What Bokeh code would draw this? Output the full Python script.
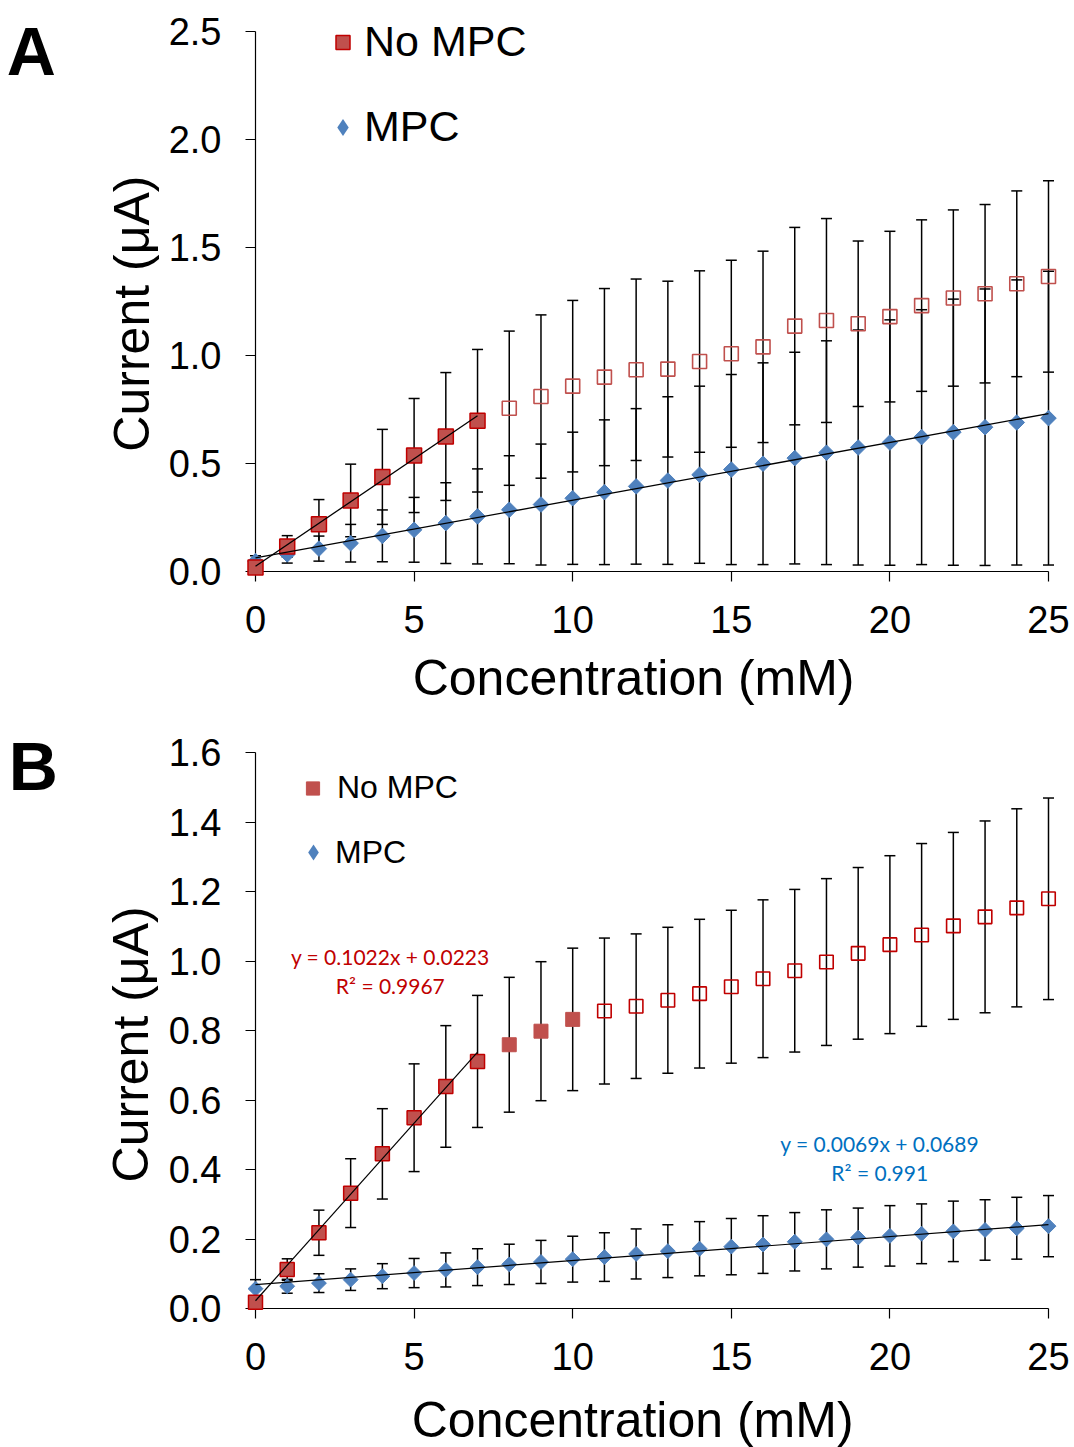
import numpy as np
from bokeh.plotting import figure
from bokeh.layouts import column
from bokeh.models import (ColumnDataSource, FixedTicker, NumeralTickFormatter,
                          Legend, LegendItem, Label)
from bokeh.core.properties import value
from bokeh.embed import file_html
from bokeh.resources import INLINE

# ---------------- data ----------------
conc = list(range(26))
x_ticks = [0, 5, 10, 15, 20, 25]
a_y_ticks = [0.0, 0.5, 1.0, 1.5, 2.0, 2.5]
b_y_ticks = [0.0, 0.2, 0.4, 0.6, 0.8, 1.0, 1.2, 1.4, 1.6]

# Panel A
a_nompc = [0.019, 0.116, 0.219, 0.329, 0.438, 0.537, 0.625, 0.698, 0.756, 0.810,
           0.858, 0.900, 0.934, 0.937, 0.972, 1.008, 1.040, 1.136, 1.162, 1.147,
           1.180, 1.231, 1.266, 1.286, 1.332, 1.366]
a_nompc_err = [0.015, 0.050, 0.114, 0.168, 0.220, 0.264, 0.296, 0.330, 0.357, 0.378,
               0.397, 0.410, 0.420, 0.407, 0.420, 0.433, 0.443, 0.457, 0.472, 0.383,
               0.395, 0.397, 0.408, 0.413, 0.430, 0.443]
a_mpc = [0.048, 0.079, 0.106, 0.131, 0.165, 0.193, 0.224, 0.255, 0.286, 0.310,
         0.339, 0.367, 0.394, 0.421, 0.448, 0.472, 0.499, 0.525, 0.550, 0.574,
         0.597, 0.622, 0.645, 0.668, 0.690, 0.710]
a_mpc_err = [0.025, 0.040, 0.058, 0.087, 0.120, 0.150, 0.187, 0.220, 0.250, 0.280,
             0.306, 0.335, 0.360, 0.388, 0.410, 0.440, 0.467, 0.490, 0.518, 0.544,
             0.568, 0.590, 0.616, 0.640, 0.660, 0.680]

# Panel B
b_nompc = [0.018, 0.112, 0.218, 0.332, 0.445, 0.549, 0.639, 0.711, 0.759, 0.798,
           0.832, 0.856, 0.870, 0.887, 0.906, 0.926, 0.949, 0.972, 0.997, 1.022,
           1.047, 1.075, 1.101, 1.127, 1.153, 1.179]
b_nompc_err = [0.010, 0.031, 0.065, 0.099, 0.130, 0.155, 0.175, 0.190, 0.194, 0.200,
               0.205, 0.210, 0.208, 0.210, 0.214, 0.220, 0.227, 0.234, 0.240, 0.247,
               0.256, 0.263, 0.269, 0.276, 0.285, 0.290]
b_mpc = [0.057, 0.064, 0.073, 0.083, 0.093, 0.102, 0.111, 0.119, 0.127, 0.134,
         0.142, 0.148, 0.157, 0.165, 0.172, 0.178, 0.184, 0.192, 0.199, 0.204,
         0.209, 0.215, 0.222, 0.226, 0.231, 0.237]
b_mpc_err = [0.026, 0.020, 0.027, 0.031, 0.036, 0.042, 0.049, 0.053, 0.058, 0.062,
             0.066, 0.070, 0.072, 0.076, 0.078, 0.081, 0.083, 0.084, 0.085, 0.085,
             0.087, 0.086, 0.087, 0.087, 0.089, 0.088]

# Trend-line equations printed on panel B (slope, intercept, R2)
b_nompc_fit = (0.1022, 0.0223, 0.9967)
b_mpc_fit = (0.0069, 0.0689, 0.991)

x_title = "Concentration (mM)"
y_title = "Current (μA)"

# ---------------- styling ----------------
FONT = "Liberation Sans"
RED_FILL = "#C0504D"
RED_EDGE = "#C00000"
BLUE = "#4F81BD"
LEVEL = "overlay"


def base_figure(height, y_end, y_top_tick, y_ticks, left, top, bottom, right):
    p = figure(width=1074, height=height, x_range=(0, 25), y_range=(0, y_end),
               output_backend="svg", toolbar_location=None,
               min_border_left=left, min_border_top=top,
               min_border_bottom=bottom, min_border_right=right)
    p.outline_line_color = None
    p.xgrid.grid_line_color = None
    p.ygrid.grid_line_color = None
    p.background_fill_color = "white"
    p.border_fill_color = "white"
    p.xaxis.ticker = FixedTicker(ticks=x_ticks)
    p.yaxis.ticker = FixedTicker(ticks=y_ticks)
    p.yaxis.bounds = (0, y_top_tick)
    p.xaxis.formatter = NumeralTickFormatter(format="0")
    p.yaxis.formatter = NumeralTickFormatter(format="0.0")
    for ax in (p.xaxis[0], p.yaxis[0]):
        ax.axis_line_color = "black"
        ax.axis_line_width = 1.2
        ax.major_tick_line_color = "black"
        ax.major_tick_line_width = 1.2
        ax.major_tick_in = 0
        ax.major_tick_out = 10
        ax.minor_tick_line_color = None
        ax.major_label_text_font = FONT
        ax.major_label_text_font_size = "38px"
        ax.major_label_text_color = "black"
    p.yaxis.major_label_standoff = 24
    p.xaxis.major_label_standoff = 24
    return p


def free_text(p, x, y, text, size, style="normal", angle=0.0, align="center"):
    # text glyph drawn at overlay level so that it may sit outside the frame
    p.text(x=[x], y=[y], text=[text], angle=angle, text_align=align,
           text_baseline="alphabetic", text_font=value(FONT),
           text_font_size=size, text_font_style=style, text_color="black",
           level=LEVEL)


def error_bars(p, x, y, err):
    lo = [v - e for v, e in zip(y, err)]
    hi = [v + e for v, e in zip(y, err)]
    src = ColumnDataSource(dict(x=x, lo=lo, hi=hi))
    p.segment(x0="x", y0="lo", x1="x", y1="hi", source=src,
              line_color="black", line_width=1.5, level=LEVEL)
    p.scatter(x="x", y="lo", source=src, marker="dash", size=11,
              line_color="black", line_width=1.5, level=LEVEL)
    p.scatter(x="x", y="hi", source=src, marker="dash", size=11,
              line_color="black", line_width=1.5, level=LEVEL)


def subset(x, y, idx):
    return ColumnDataSource(dict(x=[x[i] for i in idx], y=[y[i] for i in idx]))


def single_legend(p, renderer, label, font_size, gw, gh, standoff, vx, vy):
    lg = Legend(items=[LegendItem(label=label, renderers=[renderer])],
                location=(vx, vy), orientation="vertical",
                glyph_width=gw, glyph_height=gh, label_height=gh,
                label_standoff=standoff, padding=0, margin=0, spacing=0,
                border_line_color=None, background_fill_alpha=0,
                label_text_font=FONT, label_text_font_size=font_size,
                label_text_color="black")
    p.add_layout(lg, "center")


def legend_diamond(p, x, y):
    # legend swatch renderer: size 0 so it draws nothing in the plot itself
    src = ColumnDataSource(dict(x=x, y=y))
    return p.scatter(x="x", y="y", source=src, marker="diamond", size=0,
                     fill_color=BLUE, line_color=None, level=LEVEL)


# ---------------- Panel A ----------------
# 216 px per unit; frame extended 15 px above 2.5 so the legend is not clipped
pA = base_figure(720, 2.5 + 15 / 216, 2.5, a_y_ticks, left=254, top=16, bottom=149, right=26)

error_bars(pA, conc, a_nompc, a_nompc_err)
error_bars(pA, conc, a_mpc, a_mpc_err)

a_fit_idx = list(range(0, 8))
a_open_idx = list(range(8, 26))
pA.scatter(x="x", y="y", source=subset(conc, a_mpc, range(26)),
           marker="square", angle=np.pi / 4, size=11,
           fill_color=BLUE, line_color=BLUE, level=LEVEL)
rA_red = pA.scatter(x="x", y="y", source=subset(conc, a_nompc, a_fit_idx),
                    marker="square", size=15, fill_color=RED_FILL,
                    line_color=RED_EDGE, line_width=1.5, level=LEVEL)
pA.scatter(x="x", y="y", source=subset(conc, a_nompc, a_open_idx),
           marker="square", size=14, fill_alpha=0, line_color=RED_FILL,
           line_width=1.6, level=LEVEL)

# linear trend lines (least-squares on the plotted data)
ka, ba = np.polyfit([conc[i] for i in a_fit_idx], [a_nompc[i] for i in a_fit_idx], 1)
xa = [conc[0], conc[7]]
pA.line(xa, [ka * v + ba for v in xa], line_color="black", line_width=1.3, level=LEVEL)
kb, bb = np.polyfit(conc, a_mpc, 1)
xb = [conc[0], conc[-1]]
pA.line(xb, [kb * v + bb for v in xb], line_color="black", line_width=1.3, level=LEVEL)

rA_leg = legend_diamond(pA, conc, a_mpc)
single_legend(pA, rA_red, "No MPC", "43px", 35, 48, 4, 70, 505)
single_legend(pA, rA_leg, "MPC", "43px", 43, 48, 0, 66, 420)

free_text(pA, -7.84, 2.408, "A", "68px", style="bold", align="left")
free_text(pA, 11.92, -0.492, x_title, "50px")
free_text(pA, -3.905, 1.194, y_title, "50px", angle=np.pi / 2)

# ---------------- Panel B ----------------
# 347.5 px per unit
pB = base_figure(727, 1.6, 1.6, b_y_ticks, left=255, top=32, bottom=139, right=25)

error_bars(pB, conc, b_nompc, b_nompc_err)
error_bars(pB, conc, b_mpc, b_mpc_err)

b_fit_idx = list(range(0, 8))
b_plain_idx = list(range(8, 11))
b_open_idx = list(range(11, 26))
pB.scatter(x="x", y="y", source=subset(conc, b_mpc, range(26)),
           marker="square", angle=np.pi / 4, size=10.5,
           fill_color=BLUE, line_color=BLUE, level=LEVEL)
pB.scatter(x="x", y="y", source=subset(conc, b_nompc, b_fit_idx),
           marker="square", size=14, fill_color=RED_FILL,
           line_color=RED_EDGE, line_width=1.5, level=LEVEL)
rB_red = pB.scatter(x="x", y="y", source=subset(conc, b_nompc, b_plain_idx),
                    marker="square", size=14, fill_color=RED_FILL,
                    line_color=RED_FILL, line_width=1, level=LEVEL)
pB.scatter(x="x", y="y", source=subset(conc, b_nompc, b_open_idx),
           marker="square", size=13.5, fill_alpha=0, line_color=RED_EDGE,
           line_width=1.6, level=LEVEL)

s1, i1, r1 = b_nompc_fit
pB.line(xa, [s1 * v + i1 for v in xa], line_color="black", line_width=1.2, level=LEVEL)
s2, i2, r2 = b_mpc_fit
pB.line(xb, [s2 * v + i2 for v in xb], line_color="black", line_width=1.2, level=LEVEL)

EQ_FONT = "Lato"
for txt, xx, yy, col in [
    (f"y = {s1:.4f}x + {i1:.4f}", 4.25, 1.013, RED_EDGE),
    (f"R² = {r1}", 4.25, 0.930, RED_EDGE),
    (f"y = {s2:.4f}x + {i2:.4f}", 19.68, 0.475, "#0070C0"),
    (f"R² = {r2}", 19.68, 0.391, "#0070C0"),
]:
    pB.add_layout(Label(x=xx, y=yy, text=txt, text_align="center",
                        text_baseline="middle", text_font=EQ_FONT,
                        text_font_size="21px", text_color=col))

rB_leg = legend_diamond(pB, conc, b_mpc)
single_legend(pB, rB_red, "No MPC", "32px", 33, 36, 8, 41, 502)
single_legend(pB, rB_leg, "MPC", "32px", 40, 40, 2, 38, 436)

free_text(pB, -7.78, 1.560, "B", "68px", style="bold", align="left")
free_text(pB, 11.89, -0.322, x_title, "50px")
free_text(pB, -3.936, 0.760, y_title, "50px", angle=np.pi / 2)

layout = column(pA, pB, spacing=0)
open("out.html", "w").write(file_html(layout, INLINE))
